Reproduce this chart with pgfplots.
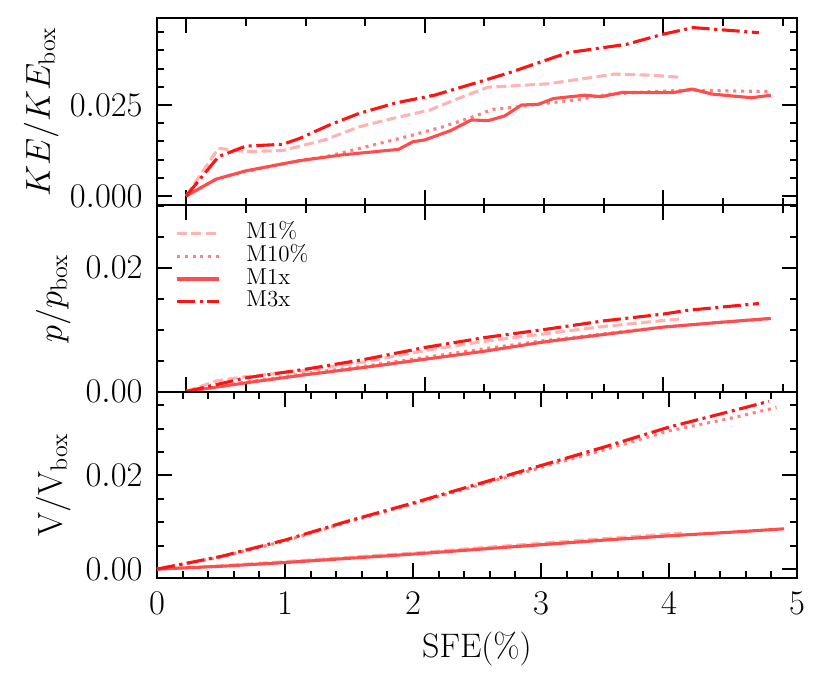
\documentclass[border=0pt]{standalone}
\usepackage{pgfplots}
\pgfplotsset{compat=1.18}
\definecolor{cA}{RGB}{255,179,179}
\definecolor{cB}{RGB}{255,128,128}
\definecolor{cC}{RGB}{255,77,77}
\definecolor{cD}{RGB}{255,20,20}
\pgfplotsset{
  panel/.style={
    scale only axis, width=320pt, height=93.25pt, anchor=south west,
    tick align=inside, xtick pos=both, ytick pos=both,
    major tick length=7.5pt, minor tick length=3.75pt,
    every tick/.style={line width=1pt, black},
    axis line style={line width=1pt},
    tick label style={font=\fontsize{17}{20}\selectfont},
    yticklabel style={anchor=east, inner sep=0pt, xshift=-7pt,
      /pgf/number format/fixed, /pgf/number format/fixed zerofill, /pgf/number format/precision=2},
    xticklabel style={anchor=north, inner sep=0pt, yshift=-7pt},
    label style={font=\fontsize{18}{21}\selectfont},
    scaled ticks=false,
    every axis plot/.append style={line width=1.55pt, line cap=butt, line join=round},
    legend image code/.code={\draw[#1] (0pt,0pt) -- (21pt,0pt);},
  },
  toppanel/.style={
    panel, xmin=-0.245, xmax=5.12,
    xtick={0,2,4}, xticklabels={,,},
    minor xtick={0.5,1,1.5,2.5,3,3.5,4.5,5},
  },
  sA/.style={color=cA, dash pattern=on 5pt off 2.2pt},
  sB/.style={color=cB, dash pattern=on 1.5pt off 2.4pt},
  sC/.style={color=cC, solid},
  sD/.style={color=cD, dash pattern=on 9pt off 2.3pt on 1.5pt off 2.3pt},
}
\begin{document}
\begin{tikzpicture}
% ---------------- top panel: KE
\begin{axis}[toppanel, at={(0pt,186.5pt)},
  ymin=-0.0025, ymax=0.0488,
  ytick={0,0.025},
  minor ytick={0.005,0.01,0.015,0.02,0.03,0.035,0.04,0.045},
  yticklabel style={/pgf/number format/precision=3},
  ylabel={$KE/KE_{\mathrm{box}}$},
  ylabel style={at={(axis description cs:0,0.5)}, anchor=base, yshift=53.5pt},
]
\addplot[sA] coordinates {(0,0) (0.27,0.0131) (0.5,0.0122) (0.81,0.0125) (1.16,0.0154) (1.45,0.019) (1.73,0.0213) (2.04,0.0236) (2.25,0.0264) (2.53,0.0299) (3.02,0.0308) (3.34,0.0323) (3.59,0.0335) (3.9,0.0332) (4.15,0.0326)};
\addplot[sB] coordinates {(0,0) (0.25,0.0046) (0.5,0.0067) (0.95,0.0097) (1.2,0.011) (1.52,0.0136) (1.87,0.0165) (2.15,0.019) (2.39,0.0216) (2.57,0.0238) (2.78,0.0245) (3.02,0.0255) (3.27,0.0264) (3.55,0.028) (3.9,0.0287) (4.22,0.0291) (4.88,0.0287)};
\addplot[sC] coordinates {(0,0) (0.25,0.0046) (0.5,0.0069) (0.95,0.0097) (1.31,0.0113) (1.78,0.0128) (1.9,0.0149) (2.0,0.0154) (2.22,0.018) (2.39,0.0209) (2.53,0.0207) (2.67,0.022) (2.81,0.025) (2.95,0.0252) (3.08,0.0268) (3.34,0.0277) (3.48,0.0273) (3.66,0.0285) (3.83,0.0284) (4.08,0.0284) (4.24,0.0294) (4.41,0.028) (4.74,0.027) (4.9,0.0277)};
\addplot[sD] coordinates {(0,0) (0.27,0.0108) (0.5,0.0137) (0.81,0.0142) (0.95,0.0158) (1.2,0.0195) (1.45,0.0227) (1.76,0.0256) (2.08,0.0277) (2.43,0.0311) (2.71,0.0339) (2.95,0.0366) (3.2,0.0394) (3.69,0.0417) (4.0,0.0445) (4.25,0.0463) (4.8,0.0449)};
\end{axis}
% ---------------- middle panel: p
\begin{axis}[toppanel, at={(0pt,93.25pt)},
  ymin=0, ymax=0.0301,
  ytick={0,0.02},
  minor ytick={0.005,0.01,0.015,0.025,0.03},
  ylabel={$p/p_{\mathrm{box}}$},
  ylabel style={at={(axis description cs:0,0.5)}, anchor=base, yshift=47.5pt},
  legend cell align=left,
  legend style={at={(axis description cs:0,1)}, anchor=north west, xshift=9pt, yshift=-9.5pt,
    draw=none, fill=none, inner sep=0pt, row sep=1.9pt,
    font=\fontsize{11.5}{13}\selectfont,
    nodes={inner sep=0pt, text height=0.72em, text depth=0.22em},
    /tikz/every odd column/.append style={column sep=13pt}},
]
\addplot[sA] coordinates {(0,0) (0.25,0.0017) (0.5,0.0024) (1.0,0.0034) (1.5,0.0048) (2.0,0.0066) (2.5,0.0081) (3.0,0.0093) (3.5,0.0105) (4.13,0.0117)};
\addlegendentry{M1\%}
\addplot[sB] coordinates {(0,0) (0.5,0.0015) (1.0,0.0029) (1.5,0.0041) (2.0,0.0055) (2.5,0.0069) (3.0,0.0082) (3.5,0.0093) (4.0,0.0104) (4.5,0.0112) (4.88,0.0117)};
\addlegendentry{M10\%}
\addplot[sC] coordinates {(0,0) (0.5,0.0014) (1.0,0.0027) (1.5,0.0039) (2.0,0.0052) (2.5,0.0065) (3.0,0.008) (3.5,0.0092) (4.0,0.0104) (4.5,0.0112) (4.9,0.0118)};
\addlegendentry{M1x}
\addplot[sD] coordinates {(0,0) (0.5,0.0022) (1.0,0.0036) (1.5,0.0052) (2.0,0.0071) (2.5,0.0087) (3.0,0.01) (3.5,0.0114) (4.0,0.0125) (4.2,0.0131) (4.8,0.0142)};
\addlegendentry{M3x}
\end{axis}
% ---------------- bottom panel: V
\begin{axis}[panel, at={(0pt,0pt)},
  xmin=0, xmax=5,
  xtick={0,1,2,3,4,5},
  minor x tick num=4,
  ymin=-0.0019, ymax=0.0379,
  ytick={0,0.02},
  minor ytick={0.005,0.01,0.015,0.025,0.03,0.035},
  ylabel={$\mathrm{V}/\mathrm{V}_{\mathrm{box}}$},
  ylabel style={at={(axis description cs:0,0.5)}, anchor=base, yshift=47.5pt},
  xlabel={SFE(\%)},
  xlabel style={at={(axis description cs:0.5,0)}, anchor=base, yshift=-39.5pt, font=\fontsize{17}{20}\selectfont},
  xticklabel style={/pgf/number format/precision=0},
]
\addplot[sA] coordinates {(0,0) (0.5,0.0007) (1.0,0.0016) (1.5,0.0025) (2.0,0.0034) (2.5,0.0045) (3.0,0.0055) (3.5,0.0065) (4.1,0.0077)};
\addplot[sB] coordinates {(0,0) (0.5,0.0026) (1.0,0.006) (1.5,0.0101) (2.0,0.0139) (2.5,0.0178) (3.0,0.0217) (3.5,0.0255) (4.0,0.0295) (4.5,0.0323) (4.84,0.0345)};
\addplot[sC] coordinates {(0,0) (0.5,0.0006) (1.0,0.0014) (1.5,0.0023) (2.0,0.0032) (2.5,0.0042) (3.0,0.0052) (3.5,0.0062) (4.0,0.0071) (4.5,0.0079) (4.9,0.0086)};
\addplot[sD] coordinates {(0,0) (0.5,0.0027) (1.0,0.0062) (1.5,0.0103) (2.0,0.0141) (2.5,0.0181) (3.0,0.0221) (3.5,0.0261) (4.0,0.0303) (4.5,0.0338) (4.78,0.0358)};
\end{axis}
\pgfresetboundingbox
\path (-78.5pt,-54.5pt) rectangle (336.5pt,289pt);
\end{tikzpicture}
\end{document}
